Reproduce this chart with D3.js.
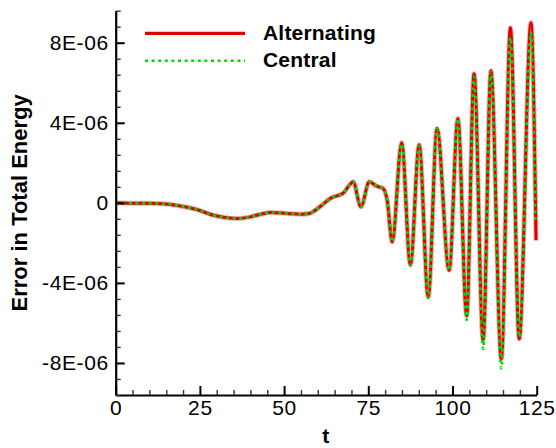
<!DOCTYPE html>
<html>
<head>
<meta charset="utf-8">
<script src="https://cdn.jsdelivr.net/npm/d3@7"></script>
<style>
  html, body { margin: 0; padding: 0; background: #fff; }
  svg { display: block; font-family: Arial, "Liberation Sans", sans-serif; }
</style>
</head>
<body>
<svg id="chart" width="556" height="448"></svg>
<script>
// ---- data ----
const seriesNames = ["Alternating", "Central"];
const tAlternating = [0, 5, 10, 14, 18, 24, 29, 33, 36, 40, 43, 46, 51, 55, 57.5, 59, 61.2, 64, 67.5, 69.6, 70.5, 72.8, 75.3, 77.5, 79.4, 80.6,
  82.1, 84.9, 87.5, 90.1, 92.8, 95.4, 99.0, 101.6, 104.2, 106.4, 109.1, 111.4, 114.5, 117.2, 119.8, 123.3, 124.8];
const alternating = [0, -0.02, -0.02, -0.04, -0.12, -0.33, -0.62, -0.75, -0.78, -0.7, -0.57, -0.48, -0.53, -0.57, -0.53, -0.4, -0.12, 0.25, 0.48, 0.93, 1.05, -0.2, 1.05, 0.83, 0.72, 0.13,
  -1.95, 3.0, -3.1, 2.9, -4.7, 3.72, -3.37, 4.22, -5.65, 6.45, -6.85, 6.6, -7.8, 8.75, -6.8, 9.0, -1.87];
const tCentral = [0, 5, 10, 14, 18, 24, 29, 33, 36, 40, 43, 46, 51, 55, 57.5, 59, 61.2, 64, 67.5, 69.6, 70.5, 72.8, 75.3, 77.5, 79.4, 80.6,
  82.1, 84.9, 87.5, 90.1, 92.8, 95.4, 99.0, 101.6, 104.2, 106.4, 109.1, 111.4, 114.5, 117.2, 119.8, 123.3, 124.6];
const central = [0, -0.02, -0.02, -0.04, -0.12, -0.33, -0.62, -0.75, -0.78, -0.7, -0.57, -0.48, -0.53, -0.57, -0.53, -0.4, -0.12, 0.25, 0.48, 0.93, 1.05, -0.2, 1.05, 0.83, 0.72, 0.13,
  -1.95, 2.95, -3.1, 2.85, -4.75, 3.7, -3.37, 4.2, -5.85, 6.3, -7.3, 6.55, -8.27, 8.25, -6.7, 8.5, -1.0];
const valueScale = 1e-6;   // values above are in units of 1E-06

const xMajorTicks = [0, 25, 50, 75, 100, 125];
const xTickLabels = ["0", "25", "50", "75", "100", "125"];
const xMinorStep = 5;
const yMajorTicks = [-8e-6, -4e-6, 0, 4e-6, 8e-6];
const yTickLabels = ["-8E-06", "-4E-06", "0", "4E-06", "8E-06"];
const yMinorStep = 0.8e-6;
const xDomain = [0, 125];
const yDomain = [-9.6e-6, 9.6e-6];
const xTitle = "t";
const yTitle = "Error in Total Energy";
const colors = ["#dc0000", "#00dd00"];

// ---- layout ----
const svg = d3.select("#chart");
const mLeft = 115.7, mRight = 536.7, mTop = 10.7, mBottom = 395;
const x = d3.scaleLinear().domain(xDomain).range([mLeft, mRight]);
const y = d3.scaleLinear().domain(yDomain).range([mBottom, mTop]);

// ---- series ----
const line = d3.line().curve(d3.curveMonotoneX).x(d => x(d[0])).y(d => y(d[1] * valueScale));
const altData = tAlternating.map((t, i) => [t, alternating[i]]);
const cenData = tCentral.map((t, i) => [t, central[i]]);

const plot = svg.append("g");
plot.append("path").datum(altData).attr("d", line)
  .attr("fill", "none").attr("stroke", "#f2b0b0").attr("stroke-width", 5).attr("stroke-linejoin", "round");
plot.append("path").datum(altData).attr("d", line)
  .attr("fill", "none").attr("stroke", colors[0]).attr("stroke-width", 3).attr("stroke-linejoin", "round");
plot.append("path").datum(cenData).attr("d", line)
  .attr("fill", "none").attr("stroke", colors[1]).attr("stroke-width", 2.6).attr("stroke-dasharray", "3,3.6");

// ---- axes ----
const xMinor = d3.range(xDomain[0], xDomain[1] + 0.001, xMinorStep).filter(v => !xMajorTicks.includes(v));
const yMinor = d3.range(yDomain[0], yDomain[1] + 1e-9, yMinorStep)
  .filter(v => !yMajorTicks.some(m => Math.abs(m - v) < 1e-9));

const xAxisMajor = d3.axisBottom(x).tickValues(xMajorTicks).tickSizeInner(-9).tickSizeOuter(0)
  .tickPadding(5).tickFormat((d, i) => xTickLabels[i]);
const gx = svg.append("g").attr("transform", `translate(0,${mBottom})`).call(xAxisMajor);
gx.select(".domain").attr("stroke", "#000").attr("stroke-width", 2.2);
gx.selectAll(".tick line").attr("stroke", "#000").attr("stroke-width", 2);
gx.selectAll(".tick text").attr("font-size", 21).attr("font-family", "Arial, 'Liberation Sans', sans-serif")
  .attr("fill", "#000").attr("letter-spacing", 0.6);
svg.append("g").attr("transform", `translate(0,${mBottom})`)
  .call(d3.axisBottom(x).tickValues(xMinor).tickSizeInner(-5).tickSizeOuter(0).tickFormat(""))
  .call(g => g.select(".domain").remove())
  .call(g => g.selectAll(".tick line").attr("stroke", "#333").attr("stroke-width", 1.4));

const yAxisMajor = d3.axisLeft(y).tickValues(yMajorTicks).tickSizeInner(-9).tickSizeOuter(0)
  .tickPadding(7).tickFormat((d, i) => yTickLabels[i]);
const gy = svg.append("g").attr("transform", `translate(${mLeft},0)`).call(yAxisMajor);
gy.select(".domain").attr("stroke", "#000").attr("stroke-width", 2.2);
gy.selectAll(".tick line").attr("stroke", "#000").attr("stroke-width", 2);
gy.selectAll(".tick text").attr("font-size", 21).attr("font-family", "Arial, 'Liberation Sans', sans-serif")
  .attr("fill", "#000").attr("letter-spacing", 0.6);
svg.append("g").attr("transform", `translate(${mLeft},0)`)
  .call(d3.axisLeft(y).tickValues(yMinor).tickSizeInner(-5).tickSizeOuter(0).tickFormat(""))
  .call(g => g.select(".domain").remove())
  .call(g => g.selectAll(".tick line").attr("stroke", "#333").attr("stroke-width", 1.4));

// ---- titles ----
svg.append("text").attr("x", (mLeft + mRight) / 2 - 0.5).attr("y", 443)
  .attr("text-anchor", "middle").attr("font-size", 21).attr("font-weight", "bold").text(xTitle);
svg.append("text").attr("transform", `translate(27,${(mTop + mBottom) / 2}) rotate(-90)`)
  .attr("text-anchor", "middle").attr("font-size", 22).attr("font-weight", "bold").text(yTitle);

// ---- legend ----
const legY = [33.3, 60.7];
const leg = svg.append("g");
seriesNames.forEach((name, i) => {
  const l = leg.append("line").attr("x1", 145).attr("x2", 245).attr("y1", legY[i]).attr("y2", legY[i])
    .attr("stroke", colors[i]);
  if (i === 0) l.attr("stroke-width", 3.2);
  else l.attr("stroke-width", 2.6).attr("stroke-dasharray", "3,3.6");
  leg.append("text").attr("x", 263).attr("y", legY[i] + 6.5).attr("font-size", 21).attr("font-weight", "bold")
    .attr("letter-spacing", 0.2).text(name);
});
</script>
</body>
</html>
